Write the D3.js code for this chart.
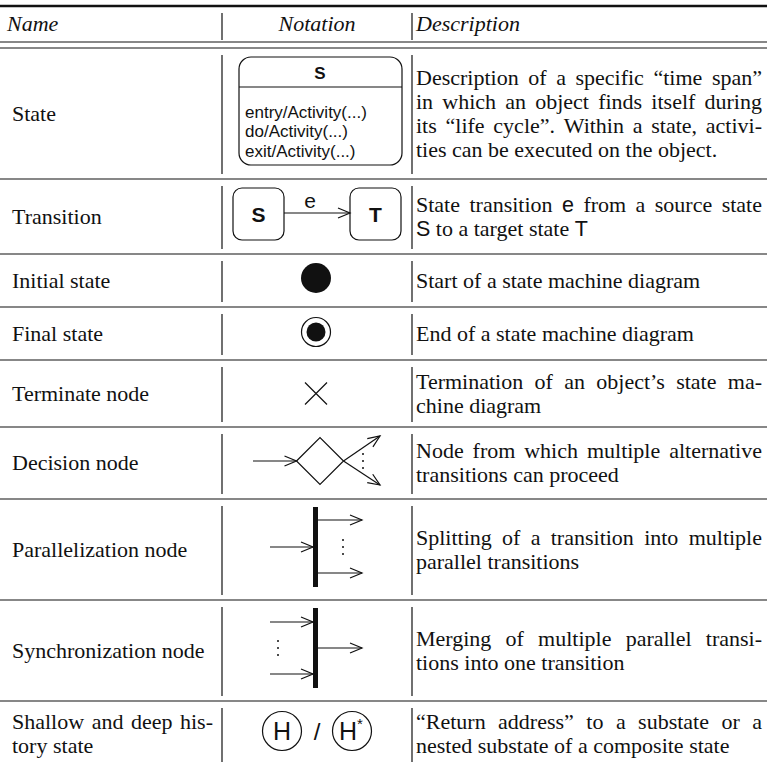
<!DOCTYPE html>
<html><head><meta charset="utf-8">
<script src="https://cdn.jsdelivr.net/npm/d3@7/dist/d3.min.js"></script>
<style>html,body{margin:0;padding:0;background:#fff;}</style>
</head><body>
<svg id="chart" width="767" height="767"></svg>
<script>
// ---------- data ----------
const headers = ["Name", "Notation", "Description"];
const names = [["State"], ["Transition"], ["Initial state"], ["Final state"], ["Terminate node"],
  ["Decision node"], ["Parallelization node"], ["Synchronization node"], ["Shallow and deep his-", "tory state"]];
const notations = ["state", "transition", "initial", "final", "terminate", "decision", "fork", "join", "history"];
const descriptions = [
  ["Description of a specific “time span”", "in which an object finds itself during", "its “life cycle”. Within a state, activi-", "ties can be executed on the object."],
  ["State transition {e} from a source state", "{S} to a target state {T}"],
  ["Start of a state machine diagram"],
  ["End of a state machine diagram"],
  ["Termination of an object’s state ma-", "chine diagram"],
  ["Node from which multiple alternative", "transitions can proceed"],
  ["Splitting of a transition into multiple", "parallel transitions"],
  ["Merging of multiple parallel transi-", "tions into one transition"],
  ["“Return address” to a substate or a", "nested substate of a composite state"]
];
const stateLabel = "S";
const stateActivities = ["entry/Activity(...)", "do/Activity(...)", "exit/Activity(...)"];
const transitionLabels = ["S", "e", "T"];
const historyLabels = ["H", "H*"];

// ---------- layout ----------
const W = 767, H = 767;
const rowHeights = [131, 75, 53, 53, 67, 72, 101, 101, 66];
const topRule = 6, headRule1 = 42, headRule2 = 48;
const sep1 = 222, sep2 = 412;
const nameX0 = 12, nameX1 = 213, descX0 = 416, descX1 = 762, notX = 316;
const SERIF = "'Liberation Serif','Times New Roman',serif";
const SANS = "'Liberation Sans',Arial,Helvetica,sans-serif";
const FS = 22, LH = 24;
const INK = "#111";

const svg = d3.select("#chart");
svg.append("rect").attr("width", W).attr("height", H).attr("fill", "#fff");

const rowTops = [headRule2];
rowHeights.forEach((h, i) => rowTops.push(rowTops[i] + h));
const y = d3.scaleLinear().domain([0, H]).range([0, H]);

// rules
svg.append("line").attr("x1", 0).attr("x2", W).attr("y1", y(topRule)).attr("y2", y(topRule))
  .attr("stroke", INK).attr("stroke-width", 2.4);
[headRule1, headRule2].forEach(v => svg.append("line").attr("x1", 0).attr("x2", W)
  .attr("y1", y(v)).attr("y2", y(v)).attr("stroke", INK).attr("stroke-width", 1.2));
rowTops.slice(1, rowTops.length - 1).forEach(v => svg.append("line").attr("x1", 0).attr("x2", W)
  .attr("y1", y(v)).attr("y2", y(v)).attr("stroke", INK).attr("stroke-width", 1.2));

// vertical separators
function vsep(y0, y1) {
  [sep1, sep2].forEach(x => svg.append("line").attr("x1", x).attr("x2", x).attr("y1", y0).attr("y2", y1)
    .attr("stroke", INK).attr("stroke-width", 1.2));
}
vsep(13, 40);
rowHeights.forEach((h, i) => vsep(rowTops[i] + 7, rowTops[i + 1] - 5));

// header
const hy = 31;
svg.append("text").attr("x", nameX0 - 5).attr("y", hy).text(headers[0])
  .attr("font-family", SERIF).attr("font-style", "italic").attr("font-size", FS).attr("fill", INK);
svg.append("text").attr("x", notX + 1).attr("y", hy).attr("text-anchor", "middle").text(headers[1])
  .attr("font-family", SERIF).attr("font-style", "italic").attr("font-size", FS).attr("fill", INK);
svg.append("text").attr("x", descX0).attr("y", hy).text(headers[2])
  .attr("font-family", SERIF).attr("font-style", "italic").attr("font-size", FS).attr("fill", INK);

// text line with optional justification
function measure(str, fam, size) {
  const t = svg.append("text").attr("font-family", fam).attr("font-size", size).text(str);
  const w = t.node().getComputedTextLength(); t.remove(); return w;
}
const spaceW = measure("a a", SERIF, FS) - measure("aa", SERIF, FS);
function drawLine(str, x0, x1, baseline, justify) {
  const words = str.split(" ").map(t => {
    const sans = /^\{.*\}$/.test(t);
    const s = sans ? t.slice(1, -1) : t;
    return { s, sans, w: measure(s, sans ? SANS : SERIF, sans ? FS - 0.5 : FS) };
  });
  const total = d3.sum(words, d => d.w);
  const gap = (justify && words.length > 1) ? (x1 - x0 - total) / (words.length - 1) : spaceW;
  let x = x0;
  words.forEach(wd => {
    svg.append("text").attr("x", x).attr("y", baseline).text(wd.s)
      .attr("font-family", wd.sans ? SANS : SERIF).attr("font-size", wd.sans ? FS - 0.5 : FS).attr("fill", INK);
    x += wd.w + gap;
  });
}
function drawPara(lines, x0, x1, cy) {
  lines.forEach((ln, i) => {
    const c = cy + (i - (lines.length - 1) / 2) * LH;
    drawLine(ln, x0, x1, c + 7, i < lines.length - 1);
  });
}

// arrows
function arrow(g, x1, y1, x2, y2) {
  g.append("line").attr("x1", x1).attr("y1", y1).attr("x2", x2).attr("y2", y2)
    .attr("stroke", INK).attr("stroke-width", 1.2);
  const a = Math.atan2(y2 - y1, x2 - x1), L = 12, w = 5;
  const p1 = [x2 - L * Math.cos(a) + w * Math.sin(a), y2 - L * Math.sin(a) - w * Math.cos(a)];
  const p2 = [x2 - L * Math.cos(a) - w * Math.sin(a), y2 - L * Math.sin(a) + w * Math.cos(a)];
  g.append("path").attr("d", d3.line()([p1, [x2, y2], p2])).attr("fill", "none")
    .attr("stroke", INK).attr("stroke-width", 1.2);
}
function dots(g, x, ys) {
  ys.forEach(v => g.append("circle").attr("cx", x).attr("cy", v).attr("r", 1).attr("fill", INK));
}

const draw = {
  state(g) {
    g.append("rect").attr("x", -77).attr("y", -56.5).attr("width", 163).attr("height", 108).attr("rx", 12)
      .attr("fill", "none").attr("stroke", INK).attr("stroke-width", 1.2);
    g.append("line").attr("x1", -77).attr("x2", 86).attr("y1", -26.5).attr("y2", -26.5)
      .attr("stroke", INK).attr("stroke-width", 1.2);
    g.append("text").attr("x", 4).attr("y", -34.5).attr("text-anchor", "middle").text(stateLabel)
      .attr("font-family", SANS).attr("font-weight", "bold").attr("font-size", 17).attr("fill", INK);
    stateActivities.forEach((s, i) => g.append("text").attr("x", -71).attr("y", 4 + i * 19.5).text(s)
      .attr("font-family", SANS).attr("font-size", 17).attr("fill", INK));
  },
  transition(g) {
    [[-83, transitionLabels[0]], [34, transitionLabels[2]]].forEach(([x, l]) => {
      g.append("rect").attr("x", x).attr("y", -28.5).attr("width", 51).attr("height", 52).attr("rx", 9)
        .attr("fill", "none").attr("stroke", INK).attr("stroke-width", 1.2);
      g.append("text").attr("x", x + 25.5).attr("y", 5).attr("text-anchor", "middle").text(l)
        .attr("font-family", SANS).attr("font-weight", "bold").attr("font-size", 21).attr("fill", INK);
    });
    arrow(g, -32, -3.5, 34, -3.5);
    g.append("text").attr("x", -6).attr("y", -9).attr("text-anchor", "middle").text(transitionLabels[1])
      .attr("font-family", SANS).attr("font-size", 21).attr("fill", INK);
  },
  initial(g) {
    g.append("circle").attr("cx", 0).attr("cy", -2.5).attr("r", 15).attr("fill", INK);
  },
  final(g) {
    g.append("circle").attr("cx", 0).attr("cy", -1.5).attr("r", 14.5).attr("fill", "none")
      .attr("stroke", INK).attr("stroke-width", 1.2);
    g.append("circle").attr("cx", 0).attr("cy", -1.5).attr("r", 9.5).attr("fill", INK);
  },
  terminate(g) {
    g.append("path").attr("d", "M-11,-11L11,11M-11,11L11,-11").attr("stroke", INK)
      .attr("stroke-width", 1.2).attr("fill", "none");
  },
  decision(g) {
    g.append("path").attr("d", "M-19.5,-2L4,-25.5L27.5,-2L4,21.5Z").attr("fill", "none")
      .attr("stroke", INK).attr("stroke-width", 1.2);
    arrow(g, -63, -2, -19.5, -2);
    arrow(g, 27.5, -2, 64, -27);
    arrow(g, 27.5, -2, 64, 22);
    dots(g, 47, [-9, -2, 5]);
  },
  fork(g) {
    g.append("rect").attr("x", -3).attr("y", -42.5).attr("width", 5).attr("height", 80).attr("fill", INK);
    arrow(g, -46, -2.5, -3, -2.5);
    arrow(g, 2, -29.5, 46, -29.5);
    arrow(g, 2, 23.5, 46, 23.5);
    dots(g, 27, [-9.5, -2.5, 4.5]);
  },
  join(g) {
    g.append("rect").attr("x", -3).attr("y", -42.5).attr("width", 5).attr("height", 80).attr("fill", INK);
    arrow(g, -46, -28.5, -3, -28.5);
    arrow(g, -46, 23.5, -3, 23.5);
    arrow(g, 2, -2.5, 46, -2.5);
    dots(g, -38, [-9.5, -2.5, 4.5]);
  },
  history(g) {
    [-34, 36].forEach((x, i) => {
      g.append("circle").attr("cx", x).attr("cy", -3).attr("r", 19.5).attr("fill", "none")
        .attr("stroke", INK).attr("stroke-width", 1.2);
      g.append("text").attr("x", x - (i ? 4 : 0)).attr("y", 6).attr("text-anchor", "middle")
        .attr("font-family", SANS).attr("font-size", 25).attr("fill", INK).text(historyLabels[i][0]);
      if (historyLabels[i].length > 1)
        g.append("text").attr("x", x + 5).attr("y", -5).text(historyLabels[i].slice(1))
          .attr("font-family", SANS).attr("font-size", 15).attr("fill", INK);
    });
    g.append("text").attr("x", 1).attr("y", 6).attr("text-anchor", "middle").text("/")
      .attr("font-family", SANS).attr("font-size", 24).attr("fill", INK);
  }
};

// rows
rowHeights.forEach((h, i) => {
  const cy = (rowTops[i] + rowTops[i + 1]) / 2;
  drawPara(names[i], nameX0, nameX1, cy);
  drawPara(descriptions[i], descX0, descX1, cy);
  const g = svg.append("g").attr("transform", `translate(${notX},${cy})`);
  draw[notations[i]](g);
});
</script>
</body></html>
